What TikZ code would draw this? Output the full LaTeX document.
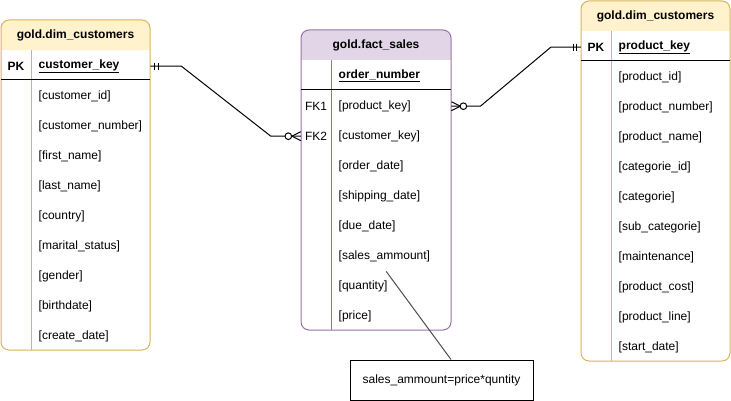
\documentclass[tikz,border=0pt]{standalone}
\usepackage{fontspec}
\setmainfont{Liberation Sans}
\usetikzlibrary{calc}
\definecolor{dimY}{HTML}{FFF2CC}
\definecolor{dimS}{HTML}{D6B656}
\definecolor{facP}{HTML}{E1D5E7}
\definecolor{facS}{HTML}{9673A6}
\definecolor{noteL}{HTML}{4D4D4D}
\begin{document}
\begin{tikzpicture}[x=1pt,y=-1pt,
  frame/.style={rounded corners=8pt, line width=1pt},
  sep/.style={line width=1pt},
  headtxt/.style={inner sep=0pt, yshift=-0.7pt, font=\bfseries\fontsize{12}{14}\selectfont},
  keycol/.style={minimum width=30, minimum height=30, inner sep=0pt, yshift=-1.2pt, font=\fontsize{12}{14}\selectfont},
  field/.style={anchor=west, minimum height=30, inner xsep=7.5pt, inner ysep=0pt, yshift=-1.2pt, align=left, text width=104pt, font=\fontsize{12}{14}\selectfont},
  keyfield/.style={field, font=\bfseries\fontsize{12}{14}\selectfont},
  rel/.style={draw=black, line width=1pt},
  erend/.style={draw=black, line width=1pt},
]
\useasboundingbox (0,0) rectangle (731,401);

% ---------- left table frame ----------
\begin{scope}
  \clip[rounded corners=8pt] (1,20) rectangle (150,350);
  \fill[white] (1,20) rectangle (150,350);
  \fill[dimY] (1,20) rectangle (150,50);
\end{scope}
\draw[dimS, frame] (1,20) rectangle (150,350);
\draw[dimS, sep] (31,50) -- (31,350);
\draw[black, sep] (1,80) -- (150,80);

% ---------- middle table frame ----------
\begin{scope}
  \clip[rounded corners=8pt] (301,30) rectangle (451,330);
  \fill[white] (301,30) rectangle (451,330);
  \fill[facP] (301,30) rectangle (451,60);
\end{scope}
\draw[facS, frame] (301,30) rectangle (451,330);
\draw[facS, sep] (331,60) -- (331,330);
\draw[black, sep] (301,90) -- (451,90);

% ---------- right table frame ----------
\begin{scope}
  \clip[rounded corners=8pt] (581,1) rectangle (730,361);
  \fill[white] (581,1) rectangle (730,361);
  \fill[dimY] (581,1) rectangle (730,31);
\end{scope}
\draw[dimS, frame] (581,1) rectangle (730,361);
\draw[dimS, sep] (611,31) -- (611,361);
\draw[black, sep] (581,61) -- (730,61);

% ---------- left table text ----------
\node[headtxt] (lhead) at (75.5,35) {gold.dim\_customers};
\node[keycol, font=\bfseries\fontsize{12}{14}\selectfont] (lpk) at (16,65) {PK};
\node[keyfield] (lkey) at (31,65) {\underline{customer\_key}};
\foreach \t [count=\i from 0] in {customer\_id,customer\_number,first\_name,last\_name,country,marital\_status,gender,birthdate,create\_date}
  \node[field] (l\i) at (31,95+30*\i) {[\t]};

% ---------- middle table text ----------
\node[headtxt] (fhead) at (376,45) {gold.fact\_sales};
\node[keyfield, text width=105pt] (fkey) at (331,75) {\underline{order\_number}};
\node[keycol] (ffk1) at (316,105) {FK1};
\node[keycol] (ffk2) at (316,135) {FK2};
\node[field, text width=105pt] (fpk) at (331,105) {[product\_key]};
\node[field, text width=105pt] (fck) at (331,135) {[customer\_key]};
\node[field, text width=105pt] (fod) at (331,165) {[order\_date]};
\node[field, text width=105pt] (fsd) at (331,195) {[shipping\_date]};
\node[field, text width=105pt] (fdd) at (331,225) {[due\_date]};
\node[field, text width=105pt] (fsa) at (331,255) {[sales\_ammount]};
\node[field, text width=105pt] (fq) at (331,285) {[quantity]};
\node[field, text width=105pt] (fp) at (331,315) {[price]};

% ---------- right table text ----------
\node[headtxt] (rhead) at (655.5,16) {gold.dim\_customers};
\node[keycol, font=\bfseries\fontsize{12}{14}\selectfont] (rpk) at (596,46) {PK};
\node[keyfield] (rkey) at (611,46) {\underline{product\_key}};
\foreach \t [count=\i from 0] in {product\_id,product\_number,product\_name,categorie\_id,categorie,sub\_categorie,maintenance,product\_cost,product\_line,start\_date}
  \node[field] (r\i) at (611,76+30*\i) {[\t]};

% ---------- note ----------
\node[draw=black, line width=1pt, minimum width=183, minimum height=40, inner sep=0pt,
      font=\fontsize{12}{14}\selectfont] (note) at (441.5,380) {sales\_ammount=price*quntity};
\draw[noteL, line width=1pt] ($(note.north)+(9.5,0)$) -- ($(fsa.south)+(-5,0)$);

% ---------- relation 1: customers -> fact (FK2) ----------
\draw[rel] (lkey.east) -- ++(31,0) -- ($(ffk2.west)+(-30,0)$) -- (ffk2.west);
\draw[erend] ($(lkey.east)+(4.3,-3.5)$) -- ++(0,7);
\draw[erend] ($(lkey.east)+(7.7,-3.5)$) -- ++(0,7);
\draw[erend] ($(ffk2.west)+(-9,0)$) -- ($(ffk2.west)+(0,-4.5)$);
\draw[erend] ($(ffk2.west)+(-9,0)$) -- ($(ffk2.west)+(0,4.5)$);
\draw[erend, fill=white] ($(ffk2.west)+(-12.5,0)$) circle (3.3pt);

% ---------- relation 2: fact (FK1) -> products ----------
\draw[rel] (fpk.east) -- ++(29,0) -- ($(rpk.west)+(-30,0)$) -- (rpk.west);
\draw[erend] ($(rpk.west)+(-4.3,-3.5)$) -- ++(0,7);
\draw[erend] ($(rpk.west)+(-7.7,-3.5)$) -- ++(0,7);
\draw[erend] ($(fpk.east)+(9,0)$) -- ($(fpk.east)+(0,-4.5)$);
\draw[erend] ($(fpk.east)+(9,0)$) -- ($(fpk.east)+(0,4.5)$);
\draw[erend, fill=white] ($(fpk.east)+(12,0)$) circle (3.3pt);
\end{tikzpicture}
\end{document}
